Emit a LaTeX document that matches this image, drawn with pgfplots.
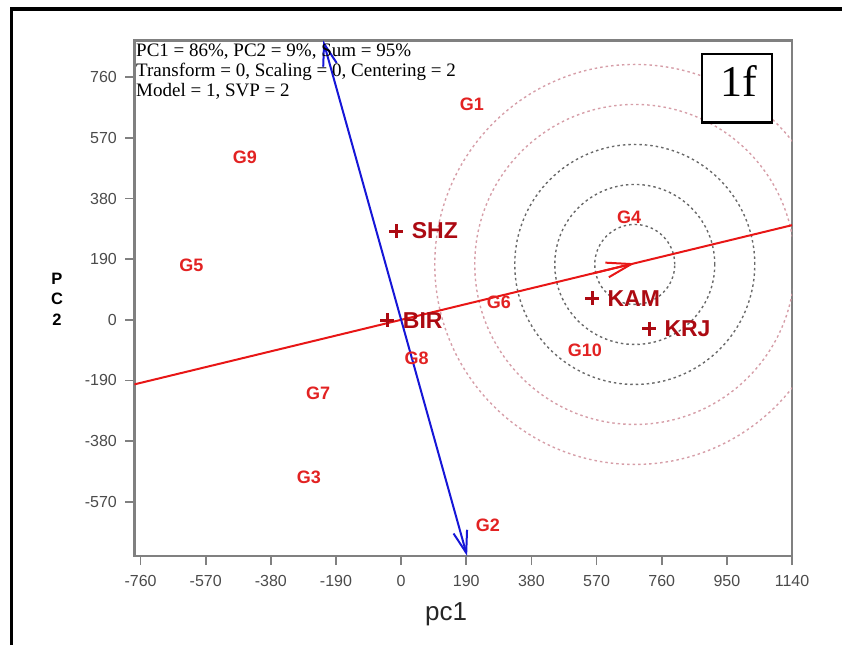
\documentclass[border=0pt]{standalone}
\usepackage{fontspec}
\setmainfont{Liberation Sans}
\newfontfamily\tnr{Liberation Serif}
\usepackage{pgfplots}
\pgfplotsset{compat=1.18}
\usetikzlibrary{arrows.meta}
\definecolor{gred}{RGB}{226,34,34}
\definecolor{ered}{RGB}{172,10,18}
\definecolor{lred}{RGB}{232,22,22}
\definecolor{lblue}{RGB}{22,22,215}
\definecolor{cgrey}{RGB}{105,105,105}
\definecolor{cpink}{RGB}{214,158,168}
\definecolor{tgrey}{RGB}{75,75,75}
\definecolor{agrey}{RGB}{128,128,128}
\pgfplotstableread{
x y label
206 675 G1
253 -645 G2
-269 -495 G3
665 322 G4
-612 172 G5
285 55 G6
-242 -229 G7
45 -122 G8
-456 509 G9
536 -94 G10
}\genos
\pgfplotstableread{
x y label
-14 278 SHZ
557 68 KAM
723 -28 KRJ
-40 -2 BIR
}\envs
\begin{document}
\begin{tikzpicture}
\path[use as bounding box] (0,0) rectangle (842pt,-645pt);
\draw[line width=3.5pt] (11.7pt,-645pt) -- (11.7pt,-9pt) -- (842pt,-9pt);
\begin{axis}[
  scale only axis,
  width=657.6pt, height=515.5pt,
  at={(134.4pt,-556pt)}, anchor=south west,
  xmin=-778, xmax=1140, ymin=-740, ymax=875,
  xtick={-760,-570,-380,-190,0,190,380,570,760,950,1140},
  ytick={-570,-380,-190,0,190,380,570,760},
  tick align=outside, xtick pos=bottom, ytick pos=left,
  major tick length=9pt,
  every tick/.style={agrey, line width=1.6pt},
  axis line style={agrey, line width=2.2pt},
  ticklabel style={font=\fontsize{16}{16}\selectfont, text=tgrey},
  xticklabel style={yshift=-7pt},
  yticklabel style={xshift=-5pt},
  /pgf/number format/assume math mode=true,
  /pgf/number format/1000 sep={},
]
% concentric circles
\draw[cgrey, line width=1.4pt, dash pattern=on 2.5pt off 3pt] (axis cs:681.4,173.4) circle[radius=40pt];
\draw[cgrey, line width=1.4pt, dash pattern=on 2.5pt off 3pt] (axis cs:681.4,173.4) circle[radius=80pt];
\draw[cgrey, line width=1.4pt, dash pattern=on 2.5pt off 3pt] (axis cs:681.4,173.4) circle[radius=120pt];
\draw[cpink, line width=1.4pt, dash pattern=on 2.5pt off 3pt] (axis cs:681.4,173.4) circle[radius=160pt];
\draw[cpink, line width=1.4pt, dash pattern=on 2.5pt off 3pt] (axis cs:681.4,173.4) circle[radius=200pt];
% genotypes
\addplot[draw=none, mark=none, nodes near coords, point meta=explicit symbolic,
  nodes near coords style={anchor=center, text=gred, inner sep=0pt, font=\bfseries\fontsize{18}{18}\selectfont}]
  table[x=x, y=y, meta=label] {\genos};
% environments
\addplot[only marks, mark=+, mark size=7pt, mark options={line width=3pt, draw=ered},
  nodes near coords, point meta=explicit symbolic,
  nodes near coords style={anchor=west, xshift=14pt, text=ered, inner sep=0pt, font=\bfseries\fontsize{23}{23}\selectfont}]
  table[x=x, y=y, meta=label] {\envs};
% average environment axis
\addplot[lred, line width=2pt] coordinates {(-778,-202.3) (1140,296.4)};
\addplot[lred, line width=2pt, -{Straight Barb[length=25pt,width=15pt,line width=2pt]}] coordinates {(560,145.6) (681.4,177.2)};
% ordinate
\addplot[lblue, line width=2pt, {Straight Barb[length=22pt,width=14pt,line width=2pt]}-{Straight Barb[length=22pt,width=14pt,line width=2pt]}] coordinates {(-227.5,875) (192.4,-740)};
\end{axis}
% annotation text
\node[anchor=base west, inner sep=0pt, font=\tnr\fontsize{19}{20}\selectfont] at (136pt,-56.7pt) {PC1 = 86\%, PC2 = 9\%, Sum = 95\%};
\node[anchor=base west, inner sep=0pt, font=\tnr\fontsize{19}{20}\selectfont] at (136pt,-76.7pt) {Transform = 0, Scaling = 0, Centering = 2};
\node[anchor=base west, inner sep=0pt, font=\tnr\fontsize{19}{20}\selectfont] at (136pt,-96.7pt) {Model = 1, SVP = 2};
% panel tag
\draw[line width=2.7pt, fill=white] (702pt,-54pt) rectangle (772pt,-122.7pt);
\node[anchor=base, inner sep=0pt, font=\tnr\fontsize{44}{44}\selectfont] at (739pt,-96.7pt) {1f};
% axis titles
\node[anchor=base, inner sep=0pt, font=\fontsize{26}{26}\selectfont, text=black!85] at (446pt,-620pt) {pc1};
\node[align=center, inner sep=0pt, font=\bfseries\fontsize{16.5}{20.5}\selectfont] at (57pt,-299pt) {P\\C\\2};
\end{tikzpicture}
\end{document}
